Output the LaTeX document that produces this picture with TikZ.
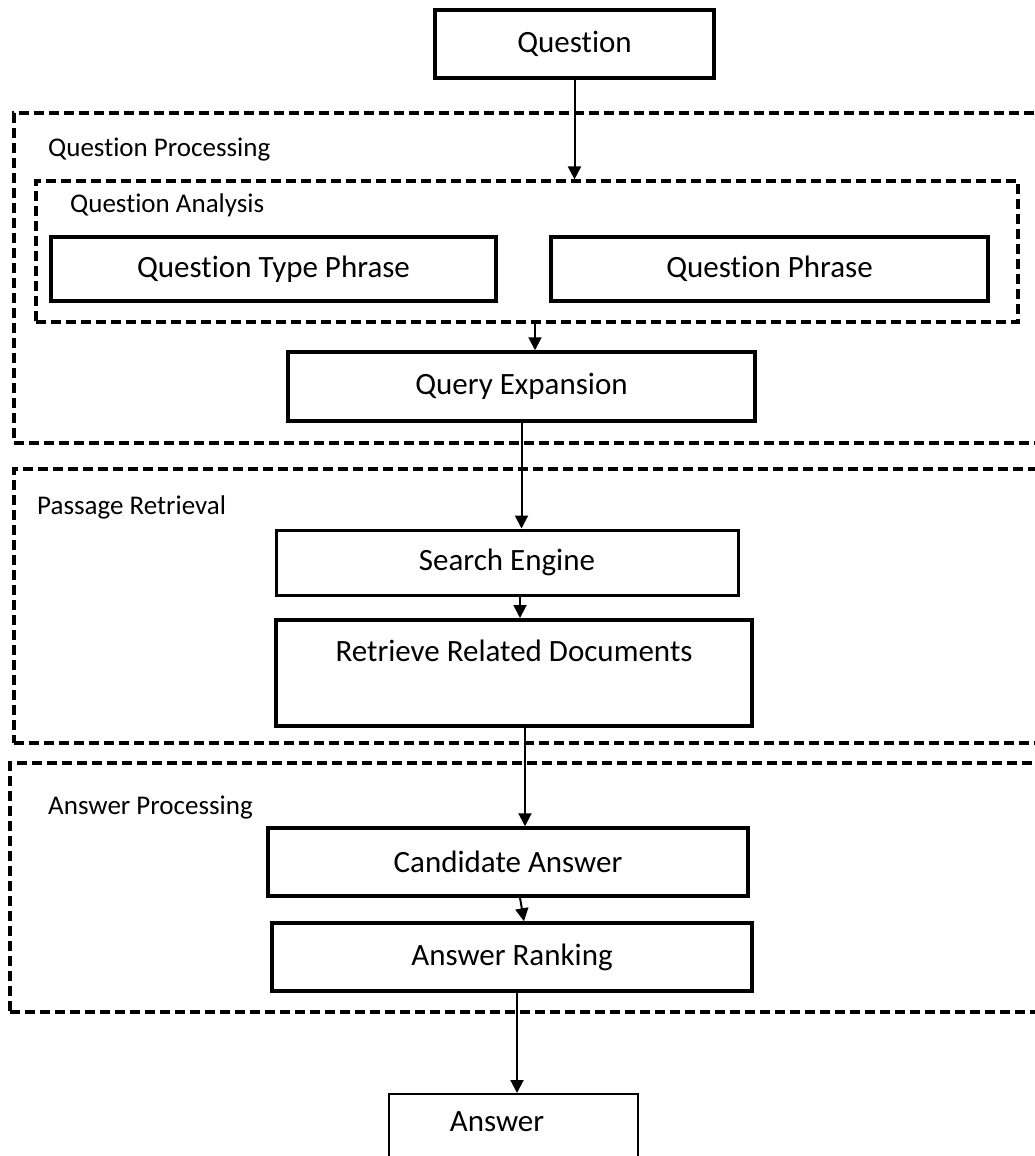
\documentclass[tikz,border=0pt]{standalone}
\usepackage{fontspec}
\setmainfont{Carlito}[Ligatures=NoCommon]
\usetikzlibrary{arrows.meta}
\begin{document}
\begin{tikzpicture}[x=1pt,y=-1pt,
  boxtext/.style={font=\fontsize{31}{36}\selectfont},
  labeltext/.style={font=\fontsize{27}{32}\selectfont, anchor=west, inner sep=0pt},
  stepbox/.style={draw=black, line width=3.5pt, boxtext, inner sep=0pt},
  thinbox/.style={draw=black, line width=1.5pt, inner sep=0pt},
  dashbox/.style={draw=black, line width=3.2pt, dash pattern=on 10pt off 5pt, inner sep=0pt},
  flow/.style={draw=black, line width=2pt, -{Triangle[length=13pt,width=13pt]}}
]
\useasboundingbox[fill=white] (0,0) rectangle (1035,1156);

% dashed containers
\node[dashbox, minimum width=1080pt, minimum height=330pt] (qproc) at (554,278) {};
\node[dashbox, minimum width=982pt, minimum height=141pt] (qana) at (527,251.5) {};
\node[dashbox, minimum width=1080pt, minimum height=274pt] (pret) at (554,606) {};
\node[dashbox, minimum width=1084pt, minimum height=249pt] (aproc) at (552,887.5) {};

% labels
\node[labeltext] (lqproc) at (48,150) {Question Processing};
\node[labeltext] (lqana) at (70,205) {Question Analysis};
\node[labeltext] (lpret) at (37,507) {Passage Retrieval};
\node[labeltext] (laproc) at (48,808) {Answer Processing};

% boxes
\node[stepbox, minimum width=279pt, minimum height=68pt] (q) at (574.5,44) {Question};
\node[stepbox, minimum width=445pt, minimum height=64pt] (qtp) at (273.5,269) {Question Type Phrase};
\node[stepbox, minimum width=437pt, minimum height=64pt] (qp) at (769.5,269) {Question Phrase};
\node[stepbox, minimum width=467pt, minimum height=69pt] (qe) at (521.5,386.5) {Query Expansion};
\node[stepbox, line width=3pt, minimum width=462pt, minimum height=65pt] (se) at (507,562.5) {Search Engine};
\node[stepbox, minimum width=476pt, text height=42pt, text depth=64pt, anchor=north] (rrd) at (514,618) {Retrieve Related Documents};
\node[stepbox, minimum width=480pt, minimum height=68pt] (ca) at (508,862) {Candidate Answer};
\node[stepbox, minimum width=480pt, minimum height=68pt] (ar) at (512,957) {Answer Ranking};
\node[thinbox, minimum width=249pt, minimum height=90pt, anchor=north] (ans) at (513.5,1093) {};
\node[boxtext, inner sep=0pt] (anstext) at (497,1122) {Answer};

% connectors
\draw[flow] (q.south) -- (q.south |- qana.north);
\draw[flow] ([xshift=13.5pt]qe.north |- qana.south) -- ([xshift=13.5pt]qe.north);
\draw[flow] (qe.south) -- (qe.south |- se.north);
\draw[flow] ([xshift=13pt]se.south) -- ([xshift=13pt]se.south |- rrd.north);
\draw[flow] ([xshift=11pt]rrd.south) -- ([xshift=11pt]rrd.south |- ca.north);
\draw[flow] ([xshift=12pt]ca.south) -- ([xshift=12pt]ar.north);
\draw[flow] ([xshift=5pt]ar.south) -- ([xshift=5pt]ar.south |- ans.north);
\end{tikzpicture}
\end{document}
